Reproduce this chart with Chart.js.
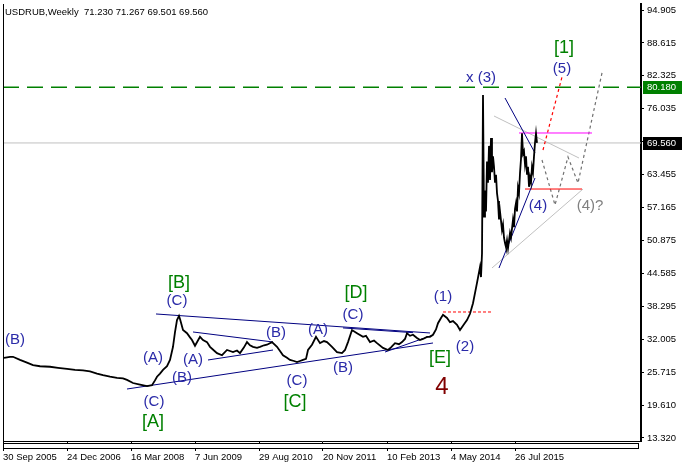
<!DOCTYPE html>
<html lang="en">
<head>
  <meta charset="UTF-8" />
  <title>USDRUB, Weekly</title>
  <script src="https://cdn.jsdelivr.net/npm/chart.js"></script>
  <style>
    html, body { margin: 0; padding: 0; background: #fff; }
    canvas { display: block; }
  </style>
</head>
<body>
  <canvas id="chart" width="682" height="469"></canvas>

  <script>
    // weeks counted from 30 Sep 2005, prices
    const weeks = [1,7,10,17,24,30,37,47,55,64,72,80,87,94,100,107,114,120,124,130,
      137,144,149,152,154,157,160,164,167,170,172,174,176,177,180,184,187,189,192,197,
      200,204,207,211,214,219,224,227,230,234,237,241,244,247,250,254,257,261,264,269,
      274,277,280,284,287,291,294,297,300,303,305,309,313,317,321,324,329,334,339,342,
      345,349,354,360,363,367,371,374,380,385,388,392,396,399,402,404,407,410,414,417,
      420,424,427,430,433,435,438,440,444,447,450,454,457,461,464,467,470,474,477,478,
      479,480,481,482,483,484,485,486,487,488,489,490,491,492,493,494,495,496,497,499,
      500,501,502,503,504,505,507,508,510,511,512,513,514,515,516,517,518,519,520,521,
      522,523,524,525,526,527,528,529,530,531,532,533,534];
    const closes = [28.6,28.8,28.8,28.2,27.7,27.2,27.0,26.9,26.7,26.5,26.3,26.2,26.0,25.6,25.3,25.0,24.8,24.7,24.4,23.8,
      23.5,23.2,23.4,24.3,25.0,25.6,26.3,27.0,28.2,30.7,33.5,35.8,36.6,36.0,33.9,33.3,32.5,32.0,30.9,32.6,
      32.0,31.6,30.7,30.0,29.5,29.1,30.1,29.9,29.7,30.0,29.5,30.6,31.6,31.0,30.7,30.5,30.7,31.0,31.1,31.6,
      30.7,29.9,29.1,28.6,28.2,28.0,27.8,28.0,28.2,28.4,30.1,31.1,32.6,31.4,31.8,31.6,30.7,29.7,29.5,30.1,
      31.6,33.9,33.3,32.6,32.8,31.6,31.9,31.4,30.5,30.1,30.6,31.4,31.2,31.6,32.2,33.3,32.8,33.0,32.4,32.0,
      32.2,32.6,32.6,33.0,34.0,35.2,36.2,36.8,36.2,35.4,35.6,34.9,33.9,35.0,35.8,37.0,39.0,42.9,45.9,44.0,
      48.5,78.7,55.5,60.5,56.5,66.0,62.0,69.0,62.5,70.5,64.0,67.0,65.0,62.0,63.5,60.0,58.5,55.0,56.5,53.0,
      54.0,51.5,50.5,49.7,51.0,49.5,52.4,51.5,54.9,53.5,57.0,58.1,56.5,61.0,60.0,63.8,66.5,71.4,67.5,68.0,
      65.5,67.0,63.5,65.0,61.2,63.0,62.0,65.0,64.0,67.0,69.6,71.4,69.56];

    const dateTicks = [0, 64, 128, 192, 256, 320, 384, 448, 512];
    const dateLabels = ["30 Sep 2005", "24 Dec 2006", "16 Mar 2008", "7 Jun 2009", "29 Aug 2010",
      "20 Nov 2011", "10 Feb 2013", "4 May 2014", "26 Jul 2015"];
    const priceLabels = ["13.320", "19.610", "25.715", "32.005", "38.295", "44.585", "50.875",
      "57.165", "63.455", "69.745", "76.035", "82.325", "88.615", "94.905"];

    const lastPrice = 69.56;
    const resistance = 80.18;

    // trendlines: [week1, price1, week2, price2]
    const navyLines = [
      [153, 36.96, 427, 33.34],
      [190, 33.53, 270, 31.62],
      [205, 28.19, 270, 30.09],
      [124, 22.66, 430, 31.43],
      [382, 29.71, 430, 32.95],
      [340, 34.30, 410, 33.40],
      [502, 78.13, 532, 67.65],
      [496, 45.73, 532, 62.88]
    ];
    const grayLines = [
      [491, 74.70, 576, 66.69],
      [489, 45.73, 580, 60.78]
    ];
    const magentaLine = [516, 71.46, 589, 71.46];
    const redLine = [522, 60.78, 579, 60.78];
    const redDashLine = [440, 37.34, 490, 37.34];
    const redDotLine = [540, 68.22, 559, 82.14];
    const pathWeeks = [539, 552, 565, 575, 599];
    const pathPrices = [66.31, 57.74, 66.88, 61.93, 82.90];

    // wave marks: [text, week, price, style]
    const waveLabels = [
      ["(B)", 12, 32.0, "blue"],
      ["[B]", 176, 42.87, "green"],
      ["(C)", 174, 39.43, "blue"],
      ["(A)", 150, 28.57, "blue"],
      ["(A)", 190, 28.19, "blue"],
      ["(B)", 179, 24.76, "blue"],
      ["(C)", 151, 20.18, "blue"],
      ["[A]", 150, 16.37, "green"],
      ["(B)", 273, 33.34, "blue"],
      ["(A)", 315, 33.91, "blue"],
      ["(C)", 350, 36.77, "blue"],
      ["[D]", 353, 40.96, "green"],
      ["(C)", 294, 24.19, "blue"],
      ["[C]", 292, 20.18, "green"],
      ["(B)", 340, 26.66, "blue"],
      ["(1)", 440, 40.2, "blue"],
      ["(2)", 462, 30.67, "blue"],
      ["[E]", 437, 28.57, "green"],
      ["4", 439, 23.04, "big"],
      ["x (3)", 478, 81.94, "blue"],
      ["[1]", 561, 87.66, "green"],
      ["(5)", 559, 83.66, "blue"],
      ["(4)", 535, 57.54, "blue"],
      ["(4)?", 587, 57.54, "gray"]
    ];

    const labelStyle = {
      blue:  { color: "#2a2aa8", font: "15px 'Liberation Sans', Arial, sans-serif" },
      green: { color: "#008000", font: "18px 'Liberation Sans', Arial, sans-serif" },
      big:   { color: "#800000", font: "24px 'Liberation Sans', Arial, sans-serif" },
      gray:  { color: "#808080", font: "15px 'Liberation Sans', Arial, sans-serif" }
    };
    const axisFont = { family: "'Liberation Sans', Arial, sans-serif", size: 9.5 };

    function seg(l, color, width, dash) {
      return {
        data: [{ x: l[0], y: l[1] }, { x: l[2], y: l[3] }],
        borderColor: color, borderWidth: width, borderDash: dash || [],
        pointRadius: 0, fill: false, tension: 0
      };
    }

    const datasets = [
      {
        data: weeks.map((w, i) => ({ x: w, y: closes[i] })),
        borderColor: "#000", borderWidth: 1.8, pointRadius: 0, fill: false, tension: 0
      },
      ...navyLines.map(l => seg(l, "#000080", 1)),
      seg(magentaLine, "#ff00ff", 1),
      seg(redLine, "#ff0000", 1),
      seg(redDashLine, "#ff0000", 1, [3, 2]),
      seg(redDotLine, "#ff0000", 1.2, [3, 3]),
      {
        data: pathWeeks.map((w, i) => ({ x: w, y: pathPrices[i] })),
        borderColor: "#707070", borderWidth: 1.2, borderDash: [3, 3],
        pointRadius: 0, fill: false, tension: 0
      },
      ...grayLines.map(l => seg(l, "#c0c0c0", 1)),
      seg([0, resistance, 638, resistance], "#008000", 1.5, [16, 8]),
      seg([0, lastPrice, 638, lastPrice], "#c0c0c0", 1)
    ];

    // texts, price boxes and the MT frame
    const overlay = {
      id: "overlay",
      afterDatasetsDraw(chart) {
        const { ctx, scales } = chart;
        ctx.save();
        ctx.textAlign = "center";
        ctx.textBaseline = "middle";
        waveLabels.forEach(([t, w, p, s]) => {
          ctx.font = labelStyle[s].font;
          ctx.fillStyle = labelStyle[s].color;
          ctx.fillText(t, scales.x.getPixelForValue(w), scales.y.getPixelForValue(p));
        });
        ctx.restore();
      },
      afterDraw(chart) {
        const { ctx, chartArea, scales } = chart;
        ctx.save();
        ctx.strokeStyle = "#000";
        ctx.lineWidth = 1;
        ctx.beginPath();
        ctx.moveTo(chartArea.left + 0.5, chartArea.top);
        ctx.lineTo(chartArea.left + 0.5, chartArea.bottom);
        ctx.stroke();
        // scroll strip under the plot
        ctx.fillStyle = "#fff";
        ctx.fillRect(chartArea.left, chartArea.bottom + 2, chartArea.right - chartArea.left - 2, 6);
        ctx.strokeRect(chartArea.left + 0.5, chartArea.bottom + 2.5, chartArea.right - chartArea.left - 3, 5);

        ctx.font = "9.5px 'Liberation Sans', Arial, sans-serif";
        ctx.textBaseline = "middle";
        [[resistance, "#008000"], [lastPrice, "#000"]].forEach(([v, c]) => {
          const y = Math.round(scales.y.getPixelForValue(v));
          ctx.fillStyle = c;
          ctx.fillRect(chartArea.right + 2, y - 6, 41, 13);
          ctx.fillStyle = "#fff";
          ctx.fillText(v.toFixed(3), chartArea.right + 6, y + 0.5);
        });

        ctx.fillStyle = "#000";
        ctx.fillText("USDRUB,Weekly  71.230 71.267 69.501 69.560", 5, 12);
        ctx.restore();
      }
    };

    new Chart(document.getElementById("chart"), {
      type: "line",
      data: { datasets },
      options: {
        responsive: false,
        animation: false,
        devicePixelRatio: 1,
        layout: { padding: { left: 3, top: 4 } },
        plugins: { legend: { display: false }, tooltip: { enabled: false } },
        scales: {
          x: {
            type: "linear", min: 0, max: 638,
            grid: { drawOnChartArea: false, tickLength: 10, color: "#000" },
            border: { color: "#000" },
            ticks: {
              autoSkip: false, maxRotation: 0, align: "start", padding: 1,
              color: "#000", font: axisFont,
              callback: (v, i) => dateLabels[i]
            },
            afterBuildTicks: s => { s.ticks = dateTicks.map(v => ({ value: v })); },
            afterFit: s => { s.height = 28; s.paddingLeft = 0; s.paddingRight = 0; }
          },
          y: {
            type: "linear", position: "right", min: 12.748, max: 96.049,
            grid: { drawOnChartArea: false, tickLength: 3, color: "#000" },
            border: { color: "#000", width: 2 },
            ticks: {
              padding: 3, color: "#000", font: axisFont,
              callback: (v, i) => priceLabels[i]
            },
            afterBuildTicks: s => {
              s.ticks = priceLabels.map((_, i) => ({ value: 13.32 + i * (94.905 - 13.32) / 13 }));
            },
            afterFit: s => { s.width = 41; s.paddingTop = 0; s.paddingBottom = 0; }
          }
        }
      },
      plugins: [overlay]
    });
  </script>
</body>
</html>
